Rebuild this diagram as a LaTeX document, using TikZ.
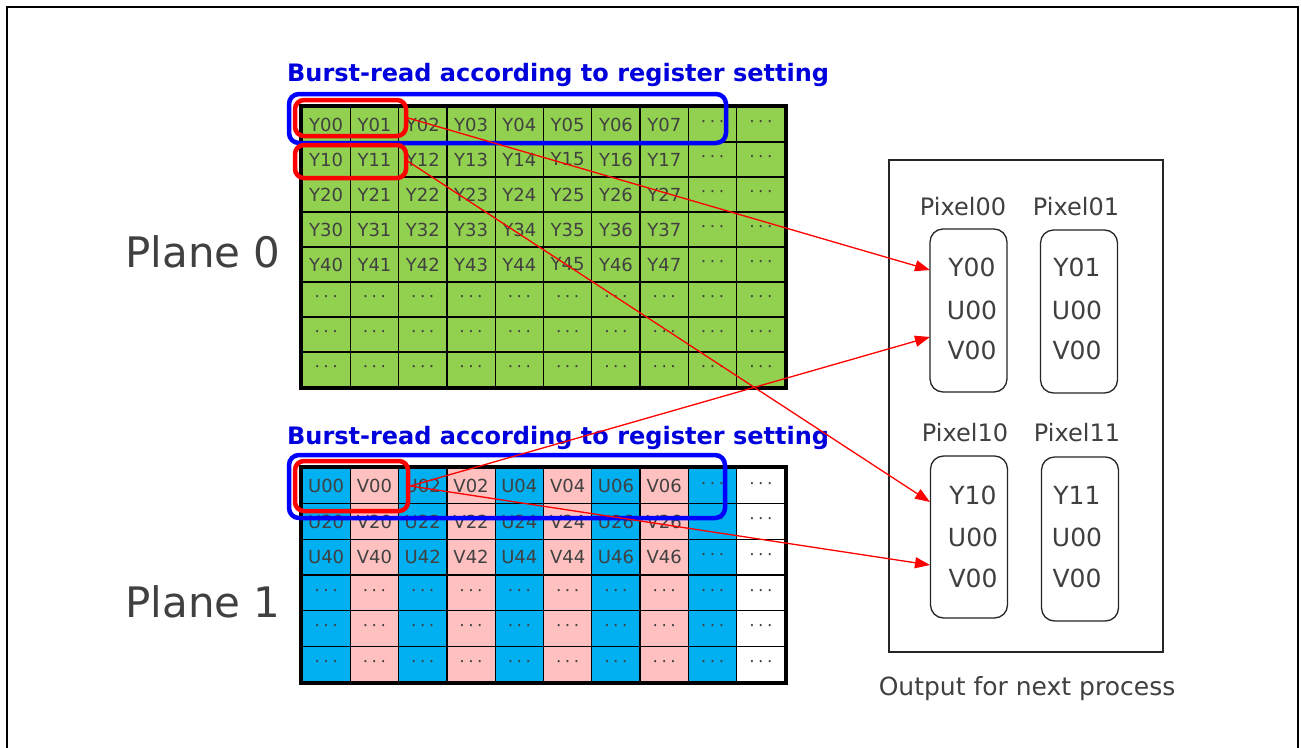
\documentclass[tikz,border=0pt]{standalone}
\usepackage{fontspec}
\setmainfont{DejaVu Sans}
\usetikzlibrary{arrows.meta}
\definecolor{cgreen}{HTML}{92D050}
\definecolor{cblue}{HTML}{00B0F0}
\definecolor{cpink}{HTML}{FFC0C0}
\definecolor{ctext}{HTML}{404040}
\definecolor{tblue}{HTML}{0000DD}
\definecolor{bblue}{HTML}{0000FF}
\definecolor{rred}{HTML}{FF0000}
\newcommand{\mydots}{{\fontsize{17}{17}\selectfont ·\hspace{3.5pt}·\hspace{3.5pt}·}}
\tikzset{
  cell/.style={draw=black, line width=1.3pt, minimum width=48.3pt, minimum height=35pt,
    inner sep=0pt, text=ctext, font=\fontsize{18}{18}\selectfont},
  bcell/.style={cell, minimum height=35.67pt},
  title/.style={text=tblue, font=\fontsize{24}{24}\selectfont\bfseries, anchor=base west, inner sep=0pt},
  bluebox/.style={draw=bblue, line width=4.5pt, rounded corners=10pt, inner sep=0pt},
  redbox/.style={draw=rred, line width=4.5pt, rounded corners=9pt, inner sep=0pt},
  pbox/.style={draw=black!85, line width=1.3pt, rounded corners=13pt, inner sep=0pt, minimum width=77pt},
  plabel/.style={text=ctext, font=\fontsize{24}{24}\selectfont, inner sep=0pt},
  ptext/.style={text=ctext, font=\fontsize{25}{25}\selectfont, inner sep=0pt},
  plane/.style={text=ctext, font=\fontsize{42}{42}\selectfont, inner sep=0pt},
  arr/.style={draw=rred, line width=1.3pt, -{Triangle[length=15pt,width=11pt]}, fill=rred},
}
\begin{document}
\begin{tikzpicture}[x=1pt,y=-1pt]
\useasboundingbox[fill=white] (0,0) rectangle (1301,747);
% outer frame
\draw[line width=2.5pt] (7,760) -- (7,7) -- (1298,7) -- (1298,760);

% ---------- Plane 0 grid ----------
\foreach \r in {0,...,7}{
  \foreach \c in {0,...,9}{
    \pgfmathsetmacro{\cx}{302+48.3*\c+24.15}
    \pgfmathsetmacro{\cy}{107+35*\r+17.5}
    \ifnum\r<5 \ifnum\c<8 \def\lbl{Y\r\c}\else\def\lbl{\mydots}\fi\else\def\lbl{\mydots}\fi
    \node[cell, fill=cgreen] (t\r\c) at (\cx,\cy) {\lbl};
  }
}
\draw[line width=4pt] (t00.north west) rectangle (t79.south east);

% ---------- Plane 1 grid ----------
\foreach \r in {0,...,5}{
  \foreach \c in {0,...,9}{
    \pgfmathsetmacro{\cx}{302+48.3*\c+24.15}
    \pgfmathsetmacro{\cy}{468+35.67*\r+17.83}
    \pgfmathtruncatemacro{\rr}{2*\r}
    \pgfmathtruncatemacro{\cc}{\c-mod(\c,2)}
    \pgfmathtruncatemacro{\odd}{mod(\c,2)}
    \ifnum\c=9 \def\fc{white}\else\ifnum\odd=0 \def\fc{cblue}\else\def\fc{cpink}\fi\fi
    \ifnum\odd=0 \def\ltr{U}\else\def\ltr{V}\fi
    \ifnum\r<3 \ifnum\c<8 \edef\lbl{\ltr\rr\cc}\else\def\lbl{\mydots}\fi\else\def\lbl{\mydots}\fi
    \node[bcell, fill=\fc] (b\r\c) at (\cx,\cy) {\lbl};
  }
}
\draw[line width=4pt] (b00.north west) rectangle (b59.south east);

% ---------- titles and plane labels ----------
\node[title] (title0) at (287,81) {Burst-read according to register setting};
\node[title] (title1) at (287,444) {Burst-read according to register setting};
\node[plane] (plane0) at (203,252) {Plane 0};
\node[plane] (plane1) at (203,602) {Plane 1};

% ---------- burst boxes ----------
\node[bluebox, minimum width=437pt, minimum height=49pt] (bb0) at (507.5,118.5) {};
\node[bluebox, minimum width=436pt, minimum height=63pt] (bb1) at (507,486.5) {};
\node[redbox, minimum width=111pt, minimum height=36pt] (r1) at (350.5,118) {};
\node[redbox, minimum width=111pt, minimum height=33pt] (r2) at (350.5,161.5) {};
\node[redbox, minimum width=113pt, minimum height=50pt] (r3) at (351.5,486) {};

% ---------- output panel ----------
\node[draw=black!85, line width=1.3pt, minimum width=274pt, minimum height=492pt, inner sep=0pt] (panel) at (1026,406) {};
\node[pbox, minimum height=163pt] (p00) at (968.5,310.5) {};
\node[pbox, minimum height=163pt] (p01) at (1079,311.5) {};
\node[pbox, minimum height=162pt] (p10) at (969,537) {};
\node[pbox, minimum height=164pt] (p11) at (1080,539) {};

\node[plabel] (l00) at (963,207) {Pixel00};
\node[plabel] (l01) at (1076,207) {Pixel01};
\node[plabel] (l10) at (965,433) {Pixel10};
\node[plabel] (l11) at (1077,433) {Pixel11};

\node[ptext] (p00y) at (972,267) {Y00};
\node[ptext] (p00u) at (972,310) {U00};
\node[ptext] (p00v) at (972,350) {V00};
\node[ptext] (p01y) at (1077,267) {Y01};
\node[ptext] (p01u) at (1077,310) {U00};
\node[ptext] (p01v) at (1077,350) {V00};
\node[ptext] (p10y) at (973,495) {Y10};
\node[ptext] (p10u) at (973,537) {U00};
\node[ptext] (p10v) at (973,578) {V00};
\node[ptext] (p11y) at (1077,495) {Y11};
\node[ptext] (p11u) at (1077,537) {U00};
\node[ptext] (p11v) at (1077,578) {V00};

\node[text=ctext, font=\fontsize{25}{25}\selectfont, anchor=base, inner sep=0pt] (outlbl) at (1027,695) {Output for next process};

% ---------- arrows ----------
\coordinate (e1) at (930,270);
\coordinate (e2) at (930,502);
\coordinate (e3) at (930,337);
\coordinate (e4) at (930,565);
\draw[arr] (r1.east) -- (e1);
\draw[arr] (r2.east) -- (e2);
\draw[arr] (r3.east) -- (e3);
\draw[arr] (r3.east) -- (e4);
\end{tikzpicture}
\end{document}
